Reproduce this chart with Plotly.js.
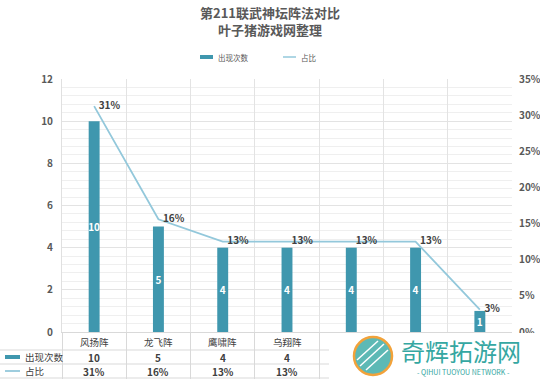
<!DOCTYPE html>
<html>
<head>
<meta charset="utf-8">
<script src="https://cdn.plot.ly/plotly-3.0.1.min.js"></script>
<style>html,body{margin:0;padding:0;background:#fff;}#chart{width:540px;height:381px;}</style>
</head>
<body>
<div id="chart"></div>
<script>
const categories = ["风扬阵", "龙飞阵", "鹰啸阵", "乌翔阵", "天覆阵", "地载阵", "虎翼阵"];
const counts = [10, 5, 4, 4, 4, 4, 1];
const shares = [0.3125, 0.156, 0.125, 0.125, 0.125, 0.125, 0.031];
const shareLabels = ["31%", "16%", "13%", "13%", "13%", "13%", "3%"];
const seriesNames = ["出现次数", "占比"];
const leftTicks = [0, 2, 4, 6, 8, 10, 12];
const rightTicks = [0, 0.05, 0.10, 0.15, 0.20, 0.25, 0.30, 0.35];
const rightTickText = ["0%", "5%", "10%", "15%", "20%", "25%", "30%", "35%"];
const titleLines = ["第211联武神坛阵法对比", "叶子猪游戏网整理"];
const watermarkText = ["奇辉拓游网", "- QIHUI TUOYOU NETWORK -"];

const FONT = "'Noto Sans CJK SC', 'Open Sans', sans-serif";
const BAR = "#3f97ae";
const LINE = "#93c8db";
const GRID = "#e3e3e3";
const TXT = "#595959";
const DARK = "#404040";
const TBL = "#d9d9d9";
const WM = "#35a7a2";

const traces = [
  {
    type: "bar", x: categories, y: counts, name: seriesNames[0],
    marker: {color: BAR}, width: 0.17,
    text: counts.map(String), textposition: "inside", insidetextanchor: "middle",
    textangle: 0, constraintext: "none",
    textfont: {color: "#ffffff", size: 10, family: FONT, weight: "bold"},
    hoverinfo: "skip", showlegend: false
  },
  {
    type: "scatter", mode: "lines+text", x: categories, y: shares, yaxis: "y2",
    name: seriesNames[1], line: {color: LINE, width: 1.8},
    text: shareLabels, texttemplate: "  %{text}", textposition: "middle right",
    textfont: {color: DARK, size: 10, family: FONT, weight: "bold"},
    cliponaxis: false, hoverinfo: "skip", showlegend: false
  }
];

// paper-coordinate helpers for decoration outside the plot area
const PL = 62, PW = 450, PB = 332, PH = 253;
const px = v => (v - PL) / PW;
const py = v => (PB - v) / PH;
const WM_LEFT = 329; // watermark box left edge (px)

const rowY = [py(342), py(357), py(371)];
const annotations = [];
annotations.push({xref: "paper", yref: "paper", x: px(270), y: py(21), text: "<b>" + titleLines.join("<br>") + "</b>",
  showarrow: false, xanchor: "center", yanchor: "middle", borderpad: 0,
  font: {size: 13, color: TXT, family: FONT}});
// legend
annotations.push({xref: "paper", yref: "paper", x: px(216), y: py(57), text: seriesNames[0], showarrow: false,
  xanchor: "left", yanchor: "middle", font: {size: 7.5, color: TXT, family: FONT}});
annotations.push({xref: "paper", yref: "paper", x: px(299), y: py(57), text: seriesNames[1], showarrow: false,
  xanchor: "left", yanchor: "middle", font: {size: 7.5, color: TXT, family: FONT}});

// data table: cells whose column lies under the watermark are hidden in the reference
categories.forEach((c, i) => {
  const colCenter = PL + PW * (i + 0.5) / categories.length;
  if (colCenter - 15 > WM_LEFT) return;
  annotations.push({xref: "x", yref: "paper", x: c, y: rowY[0], text: c, showarrow: false,
    xanchor: "center", yanchor: "middle", font: {size: 9.5, color: DARK, family: FONT}});
  annotations.push({xref: "x", yref: "paper", x: c, y: rowY[1], text: String(counts[i]), showarrow: false,
    xanchor: "center", yanchor: "middle", font: {size: 10, color: DARK, family: FONT, weight: "bold"}});
  annotations.push({xref: "x", yref: "paper", x: c, y: rowY[2], text: shareLabels[i], showarrow: false,
    xanchor: "center", yanchor: "middle", font: {size: 10, color: DARK, family: FONT, weight: "bold"}});
});
annotations.push({xref: "paper", yref: "paper", x: px(23), y: rowY[1], text: seriesNames[0], showarrow: false,
  xanchor: "left", yanchor: "middle", font: {size: 9.5, color: DARK, family: FONT}});
annotations.push({xref: "paper", yref: "paper", x: px(23), y: rowY[2], text: seriesNames[1], showarrow: false,
  xanchor: "left", yanchor: "middle", font: {size: 9.5, color: DARK, family: FONT}});
annotations.push({xref: "paper", yref: "paper", x: px(461), y: py(350), text: watermarkText[0], showarrow: false,
  xanchor: "center", yanchor: "middle", font: {size: 24, color: WM, family: FONT}});
annotations.push({xref: "paper", yref: "paper", x: px(463), y: py(372), text: watermarkText[1], showarrow: false,
  xanchor: "center", yanchor: "middle", font: {size: 7, color: WM, family: FONT}});

const shapes = [
  {type: "line", xref: "paper", yref: "paper", x0: px(0), x1: 1, y0: py(350), y1: py(350), line: {color: TBL, width: 1}},
  {type: "line", xref: "paper", yref: "paper", x0: px(0), x1: 1, y0: py(364), y1: py(364), line: {color: TBL, width: 1}},
  {type: "line", xref: "paper", yref: "paper", x0: px(0), x1: 1, y0: py(378), y1: py(378), line: {color: TBL, width: 1}},
  {type: "rect", xref: "paper", yref: "paper", x0: px(5), x1: px(20), y0: py(355), y1: py(359), fillcolor: BAR, line: {width: 0}},
  {type: "line", xref: "paper", yref: "paper", x0: px(5), x1: px(20), y0: py(371), y1: py(371), line: {color: LINE, width: 1.8}},
  // legend swatches
  {type: "rect", xref: "paper", yref: "paper", x0: px(200), x1: px(213), y0: py(55), y1: py(59), fillcolor: BAR, line: {width: 0}},
  {type: "line", xref: "paper", yref: "paper", x0: px(283), x1: px(296), y0: py(57), y1: py(57), line: {color: LINE, width: 1.5}},
  // watermark box and logo
  {type: "rect", xref: "paper", yref: "paper", x0: px(WM_LEFT), x1: px(540), y0: py(333), y1: py(381),
    fillcolor: "#ffffff", line: {width: 0}, layer: "above"},
  {type: "circle", xref: "paper", yref: "paper", x0: px(354), x1: px(392), y0: py(337), y1: py(375),
    fillcolor: "rgba(53,167,162,0.8)", line: {color: "#f2a23a", width: 2.5}, layer: "above"},
  {type: "line", xref: "paper", yref: "paper", x0: px(360), x1: px(384), y0: py(366), y1: py(344),
    line: {color: "#ffffff", width: 1.5}, layer: "above"},
  {type: "line", xref: "paper", yref: "paper", x0: px(366), x1: px(388), y0: py(370), y1: py(350),
    line: {color: "#ffffff", width: 1.5}, layer: "above"},
  {type: "line", xref: "paper", yref: "paper", x0: px(357), x1: px(378), y0: py(360), y1: py(341),
    line: {color: "#ffffff", width: 1.5}, layer: "above"}
];

const layout = {
  width: 540, height: 381,
  margin: {l: 62, r: 28, t: 79, b: 49},
  paper_bgcolor: "#ffffff", plot_bgcolor: "#ffffff",
  font: {family: FONT, color: TXT},
  showlegend: false,
  bargap: 0.5,
  xaxis: {type: "category", showticklabels: false, showline: true, linecolor: TBL,
    showgrid: true, gridcolor: GRID, tickson: "boundaries", ticks: "outside", ticklen: 46, tickcolor: TBL,
    range: [-0.5, 6.5]},
  yaxis: {range: [0, 12], tickvals: leftTicks, showgrid: true, gridcolor: GRID, zeroline: false,
    showline: true, linecolor: "#e0e0e0",
    minor: {dtick: 0.4, showgrid: true, gridcolor: "#efefef"},
    tickfont: {size: 10, color: TXT, family: FONT, weight: "bold"}, ticklabelstandoff: 6},
  yaxis2: {range: [0, 0.35], overlaying: "y", side: "right", tickvals: rightTicks, ticktext: rightTickText,
    showgrid: false, zeroline: false, showline: false,
    tickfont: {size: 10, color: TXT, family: FONT, weight: "bold"}, ticklabelstandoff: 6},
  annotations: annotations,
  shapes: shapes
};

Plotly.newPlot("chart", traces, layout, {staticPlot: true, displayModeBar: false});
</script>
</body>
</html>
